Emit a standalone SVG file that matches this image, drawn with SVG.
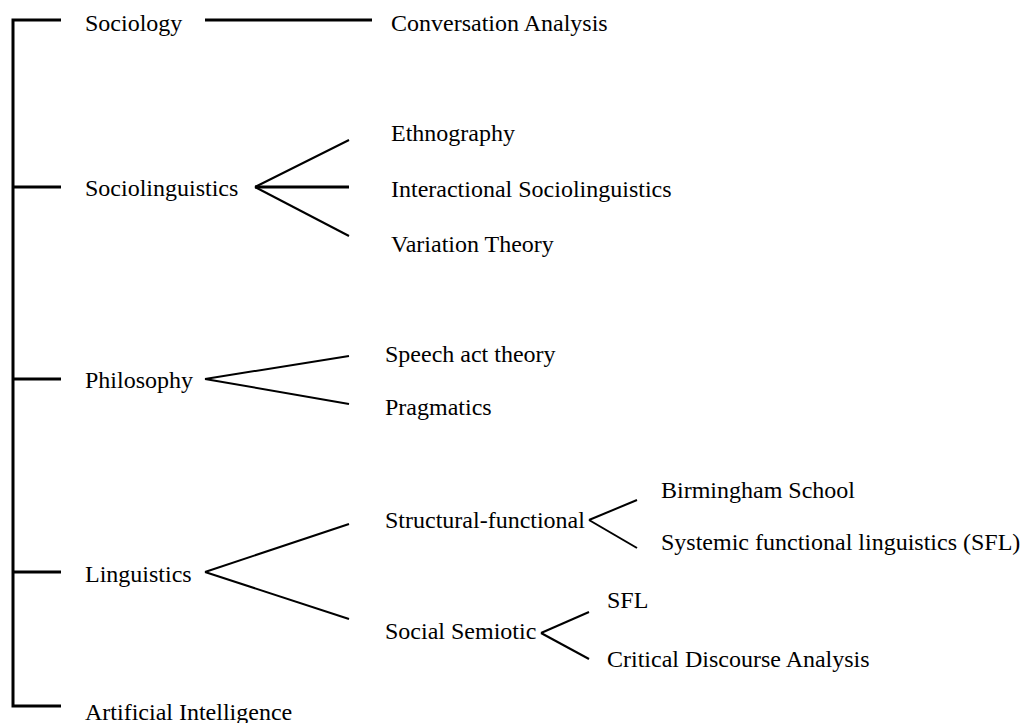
<svg xmlns="http://www.w3.org/2000/svg" width="1020" height="723" viewBox="0 0 1020 723">
  <defs>
    <style>
      .lbl { font-size: 24px; fill: #000; }
      .thick { stroke: #000; stroke-width: 3; fill: none; }
      .thin { stroke: #000; stroke-width: 2; fill: none; }
    </style>
  </defs>
  <rect width="1020" height="723" fill="#fff"/>

  <!-- connectors -->
  <g id="connectors">
    <!-- main bracket -->
    <path class="thick" d="M61,20 H13 V706 H61"/>
    <line class="thick" x1="13" y1="187" x2="61" y2="187"/>
    <line class="thick" x1="13" y1="379" x2="61" y2="379"/>
    <line class="thick" x1="13" y1="572" x2="61" y2="572"/>
    <!-- Sociology -->
    <line class="thick" x1="205" y1="20" x2="372" y2="20"/>
    <!-- Sociolinguistics fan -->
    <line class="thin" x1="255" y1="187" x2="349" y2="140"/>
    <line class="thick" x1="255" y1="187" x2="349" y2="187"/>
    <line class="thin" x1="255" y1="187" x2="349" y2="236"/>
    <!-- Philosophy fan -->
    <line class="thin" x1="205" y1="379" x2="349" y2="356"/>
    <line class="thin" x1="205" y1="379" x2="349" y2="404"/>
    <!-- Linguistics fan -->
    <line class="thin" x1="205" y1="572" x2="349" y2="524"/>
    <line class="thin" x1="205" y1="572" x2="349" y2="619"/>
    <!-- Structural-functional fan -->
    <line class="thin" x1="589" y1="520" x2="637" y2="500"/>
    <line class="thin" x1="589" y1="520" x2="637" y2="548"/>
    <!-- Social Semiotic fan -->
    <line class="thin" x1="541" y1="633" x2="589" y2="612"/>
    <line class="thin" x1="541" y1="633" x2="589" y2="659"/>
  </g>

  <g font-family="'Liberation Serif', 'Times New Roman', 'DejaVu Serif', serif">
    <g id="sociology"><text class="lbl" x="85" y="31">Sociology</text></g>
    <g id="conversation-analysis"><text class="lbl" x="391" y="31">Conversation Analysis</text></g>

    <g id="sociolinguistics"><text class="lbl" x="85" y="196">Sociolinguistics</text></g>
    <g id="ethnography"><text class="lbl" x="391" y="141">Ethnography</text></g>
    <g id="interactional"><text class="lbl" x="391" y="197">Interactional Sociolinguistics</text></g>
    <g id="variation"><text class="lbl" x="391" y="252">Variation Theory</text></g>

    <g id="philosophy"><text class="lbl" x="85" y="388">Philosophy</text></g>
    <g id="speech-act"><text class="lbl" x="385" y="362">Speech act theory</text></g>
    <g id="pragmatics"><text class="lbl" x="385" y="415">Pragmatics</text></g>

    <g id="linguistics"><text class="lbl" x="85" y="582">Linguistics</text></g>
    <g id="structural-functional"><text class="lbl" x="385" y="528">Structural-functional</text></g>
    <g id="birmingham"><text class="lbl" x="661" y="498">Birmingham School</text></g>
    <g id="sfl-long"><text class="lbl" x="661" y="550">Systemic functional linguistics (SFL)</text></g>
    <g id="social-semiotic"><text class="lbl" x="385" y="639">Social Semiotic</text></g>
    <g id="sfl"><text class="lbl" x="607" y="608">SFL</text></g>
    <g id="cda"><text class="lbl" x="607" y="667">Critical Discourse Analysis</text></g>

    <g id="ai"><text class="lbl" x="85" y="720">Artificial Intelligence</text></g>
  </g>
</svg>
